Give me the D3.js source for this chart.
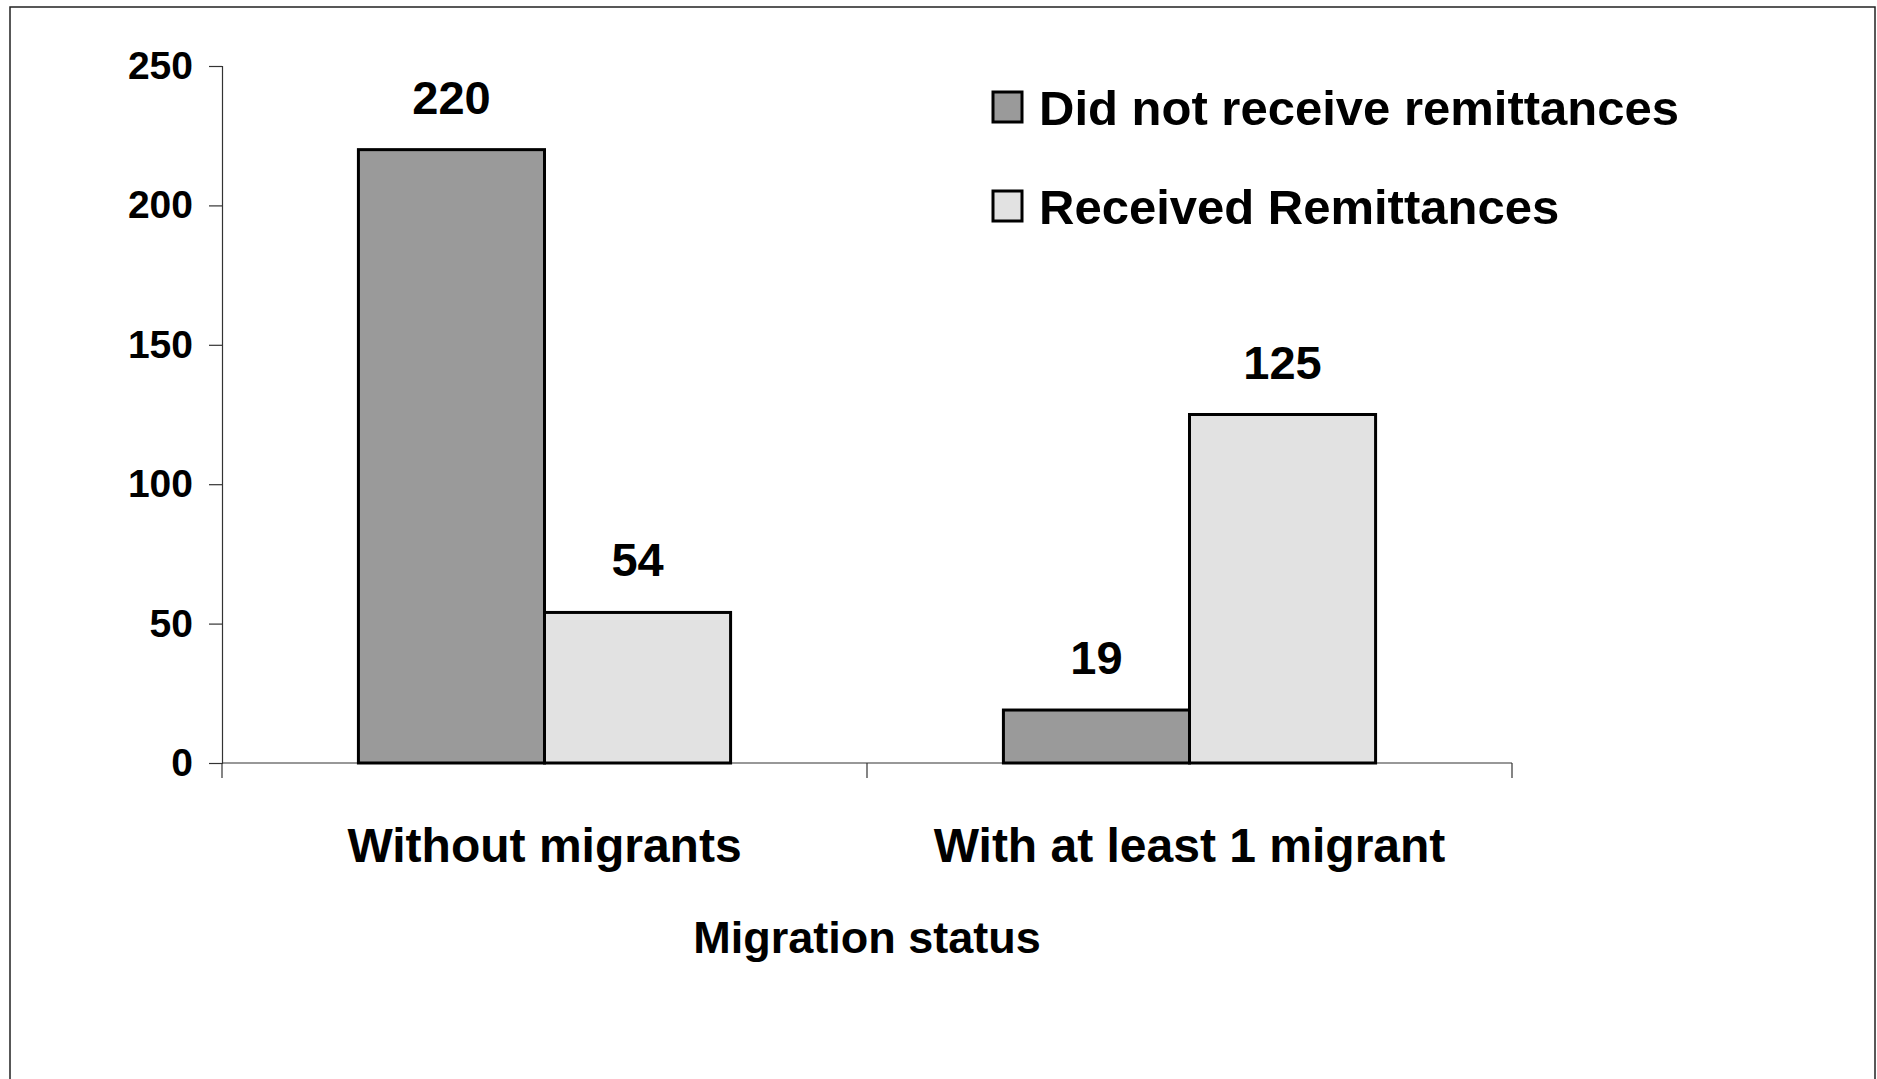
<!DOCTYPE html>
<html>
<head>
<meta charset="utf-8">
<script src="https://cdn.jsdelivr.net/npm/d3@7"></script>
<style>
  body { margin: 0; background: #fff; }
  svg text { font-family: "Liberation Sans", Arial, sans-serif; font-weight: bold; fill: #000; }
</style>
</head>
<body>
<svg id="chart" width="1877" height="1079"></svg>
<script>
// data
var categories = ["Without migrants", "With at least 1 migrant"];
var seriesNames = ["Did not receive remittances", "Received Remittances"];
var notReceived = [220, 19];
var received = [54, 125];
var yTicks = [0, 50, 100, 150, 200, 250];

var colors = ["#9a9a9a", "#e2e2e2"];

var svg = d3.select("#chart");

var margin = { left: 222, right: 365, top: 66, bottom: 316 };
var width = 1877 - margin.left - margin.right;
var height = 1079 - margin.top - margin.bottom;

// outer frame
svg.append("rect")
    .attr("x", 10).attr("y", 7)
    .attr("width", 1865).attr("height", 1100)
    .attr("fill", "none")
    .attr("stroke", "#222")
    .attr("stroke-width", 1.5);

var g = svg.append("g")
    .attr("transform", "translate(" + margin.left + "," + margin.top + ")");

var x0 = d3.scaleBand()
    .domain(categories)
    .range([0, width])
    .paddingInner(0.423)
    .paddingOuter(0.2115);

var x1 = d3.scaleBand()
    .domain([0, 1])
    .range([0, x0.bandwidth()]);

var y = d3.scaleLinear()
    .domain([0, 250])
    .range([height, 0]);

var rows = categories.map(function (c, i) {
    return { cat: c, values: [notReceived[i], received[i]] };
});

// y axis
var yAxis = g.append("g")
    .call(d3.axisLeft(y).tickValues(yTicks).tickSize(13).tickPadding(16));
yAxis.select(".domain").attr("stroke", "#333").attr("stroke-width", 1.2);
yAxis.selectAll(".tick line").attr("stroke", "#333").attr("stroke-width", 1.2);
yAxis.selectAll(".tick text")
    .style("font-size", "39px")
    .style("font-family", "'Liberation Sans', Arial, sans-serif")
    .style("font-weight", "bold")
    .attr("fill", "#000");

// x axis line, ticks at the category boundaries
var xAxis = g.append("g")
    .attr("transform", "translate(0," + height + ")");
xAxis.append("line")
    .attr("x1", 0).attr("x2", width)
    .attr("y1", 0).attr("y2", 0)
    .attr("stroke", "#333").attr("stroke-width", 1.2);
var bounds = [0, (x0(categories[0]) + x0(categories[1]) + x0.bandwidth()) / 2, width];
xAxis.selectAll(".xtick")
    .data(bounds)
    .enter().append("line")
    .attr("x1", function (d) { return d; })
    .attr("x2", function (d) { return d; })
    .attr("y1", 0).attr("y2", 15)
    .attr("stroke", "#333").attr("stroke-width", 1.2);

xAxis.selectAll(".catlabel")
    .data(categories)
    .enter().append("text")
    .attr("x", function (d) { return x0(d) + x0.bandwidth() / 2; })
    .attr("y", 99)
    .attr("text-anchor", "middle")
    .style("font-size", "48px")
    .text(function (d) { return d; });

g.append("text")
    .attr("x", width / 2)
    .attr("y", height + 190)
    .attr("text-anchor", "middle")
    .style("font-size", "45px")
    .text("Migration status");

// bars
var groups = g.selectAll(".grp")
    .data(rows)
    .enter().append("g")
    .attr("transform", function (d) { return "translate(" + x0(d.cat) + ",0)"; });

groups.selectAll("rect")
    .data(function (d) { return d.values; })
    .enter().append("rect")
    .attr("x", function (d, i) { return x1(i); })
    .attr("y", function (d) { return y(d); })
    .attr("width", x1.bandwidth())
    .attr("height", function (d) { return height - y(d); })
    .attr("fill", function (d, i) { return colors[i]; })
    .attr("stroke", "#000")
    .attr("stroke-width", 3);

groups.selectAll(".val")
    .data(function (d) { return d.values; })
    .enter().append("text")
    .attr("x", function (d, i) { return x1(i) + x1.bandwidth() / 2; })
    .attr("y", function (d) { return y(d) - 36; })
    .attr("text-anchor", "middle")
    .style("font-size", "47px")
    .text(function (d) { return d; });

// legend
var legend = svg.append("g")
    .attr("transform", "translate(993,92)");

var items = legend.selectAll(".item")
    .data(seriesNames)
    .enter().append("g")
    .attr("transform", function (d, i) { return "translate(0," + i * 99 + ")"; });

items.append("rect")
    .attr("width", 29).attr("height", 30)
    .attr("fill", function (d, i) { return colors[i]; })
    .attr("stroke", "#000")
    .attr("stroke-width", 3);

items.append("text")
    .attr("x", 46)
    .attr("y", 33)
    .style("font-size", "49px")
    .text(function (d) { return d; });
</script>
</body>
</html>
